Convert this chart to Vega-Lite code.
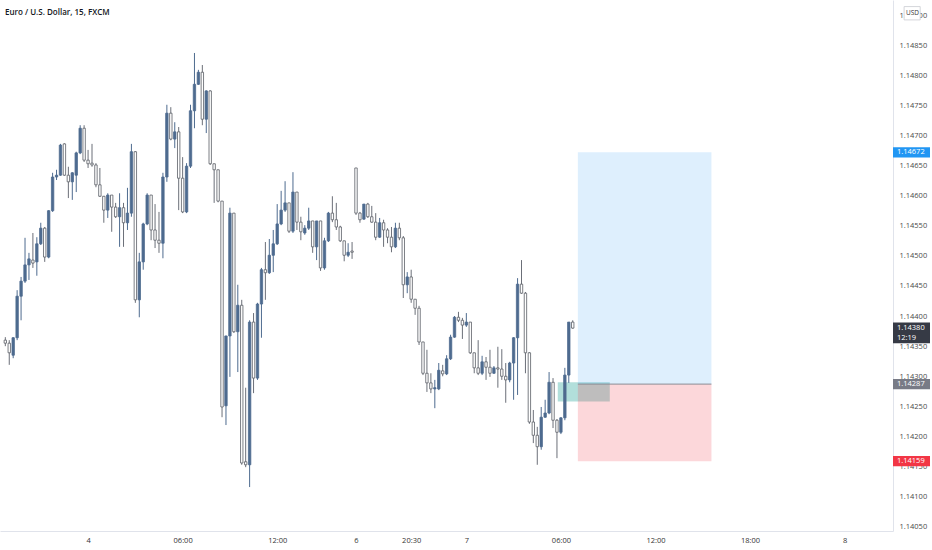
{
  "$schema": "https://vega.github.io/schema/vega-lite/v6.json",
  "width": 893,
  "height": 531,
  "autosize": "none",
  "padding": {"left": 0, "top": 0, "right": 39, "bottom": 19},
  "background": "#ffffff",
  "title": {"text": "Euro / U.S. Dollar, 15, FXCM", "anchor": "start", "frame": "group", "offset": -23, "baseline": "alphabetic", "dx": 5, "fontSize": 8, "font": "Open Sans", "fontWeight": 600, "color": "#131722"},
  "config": {
    "view": {"stroke": null},
    "axis": {"grid": false, "ticks": false, "domainColor": "#e0e3eb", "labelColor": "#4a4a4a", "labelFont": "Open Sans", "labelFontSize": 7.5, "labelOverlap": false, "labelFlush": false, "labelBound": false}
  },
  "datasets": {
    "candles": [
      {"i":-21,"o":1.14360,"h":1.14365,"l":1.14350,"c":1.14355},
      {"i":-20,"o":1.14355,"h":1.14360,"l":1.14319,"c":1.14339},
      {"i":-19,"o":1.14335,"h":1.14365,"l":1.14330,"c":1.14364},
      {"i":-18,"o":1.14364,"h":1.14443,"l":1.14360,"c":1.14433},
      {"i":-17,"o":1.14433,"h":1.14465,"l":1.14393,"c":1.14458},
      {"i":-16,"o":1.14458,"h":1.14530,"l":1.14455,"c":1.14485},
      {"i":-15,"o":1.14485,"h":1.14505,"l":1.14460,"c":1.14495},
      {"i":-14,"o":1.14493,"h":1.14538,"l":1.14480,"c":1.14488},
      {"i":-13,"o":1.14490,"h":1.14531,"l":1.14467,"c":1.14520},
      {"i":-12,"o":1.14520,"h":1.14555,"l":1.14518,"c":1.14546},
      {"i":-11,"o":1.14546,"h":1.14548,"l":1.14490,"c":1.14498},
      {"i":-10,"o":1.14498,"h":1.14576,"l":1.14496,"c":1.14575},
      {"i":-9,"o":1.14575,"h":1.14638,"l":1.14573,"c":1.14631},
      {"i":-8,"o":1.14631,"h":1.14643,"l":1.14626,"c":1.14634},
      {"i":-7,"o":1.14634,"h":1.14686,"l":1.14633,"c":1.14684},
      {"i":-6,"o":1.14686,"h":1.14687,"l":1.14633,"c":1.14634},
      {"i":-5,"o":1.14634,"h":1.14648,"l":1.14596,"c":1.14623},
      {"i":-4,"o":1.14623,"h":1.14639,"l":1.14593,"c":1.14638},
      {"i":-3,"o":1.14634,"h":1.14673,"l":1.14606,"c":1.14671},
      {"i":-2,"o":1.14671,"h":1.14717,"l":1.14669,"c":1.14712},
      {"i":-1,"o":1.14712,"h":1.14717,"l":1.14656,"c":1.14659},
      {"i":0,"o":1.14659,"h":1.14676,"l":1.14646,"c":1.14653},
      {"i":1,"o":1.14654,"h":1.14686,"l":1.14648,"c":1.14651},
      {"i":2,"o":1.14651,"h":1.14654,"l":1.14614,"c":1.14618},
      {"i":3,"o":1.14618,"h":1.14646,"l":1.14598,"c":1.14599},
      {"i":4,"o":1.14599,"h":1.14599,"l":1.14555,"c":1.14576},
      {"i":5,"o":1.14576,"h":1.14604,"l":1.14563,"c":1.14601},
      {"i":6,"o":1.14601,"h":1.14601,"l":1.14540,"c":1.14581},
      {"i":7,"o":1.14581,"h":1.14588,"l":1.14563,"c":1.14565},
      {"i":8,"o":1.14565,"h":1.14604,"l":1.14515,"c":1.14580},
      {"i":9,"o":1.14580,"h":1.14588,"l":1.14515,"c":1.14555},
      {"i":10,"o":1.14555,"h":1.14613,"l":1.14543,"c":1.14571},
      {"i":11,"o":1.14571,"h":1.14686,"l":1.14565,"c":1.14673},
      {"i":12,"o":1.14673,"h":1.14674,"l":1.14422,"c":1.14427},
      {"i":13,"o":1.14427,"h":1.14505,"l":1.14398,"c":1.14490},
      {"i":14,"o":1.14490,"h":1.14555,"l":1.14477,"c":1.14553},
      {"i":15,"o":1.14553,"h":1.14604,"l":1.14551,"c":1.14601},
      {"i":16,"o":1.14601,"h":1.14601,"l":1.14526,"c":1.14543},
      {"i":17,"o":1.14543,"h":1.14586,"l":1.14513,"c":1.14526},
      {"i":18,"o":1.14526,"h":1.14573,"l":1.14505,"c":1.14521},
      {"i":19,"o":1.14521,"h":1.14638,"l":1.14496,"c":1.14631},
      {"i":20,"o":1.14631,"h":1.14751,"l":1.14623,"c":1.14737},
      {"i":21,"o":1.14737,"h":1.14747,"l":1.14692,"c":1.14694},
      {"i":22,"o":1.14694,"h":1.14722,"l":1.14679,"c":1.14706},
      {"i":23,"o":1.14706,"h":1.14714,"l":1.14576,"c":1.14629},
      {"i":24,"o":1.14629,"h":1.14664,"l":1.14571,"c":1.14573},
      {"i":25,"o":1.14573,"h":1.14654,"l":1.14571,"c":1.14649},
      {"i":26,"o":1.14649,"h":1.14751,"l":1.14646,"c":1.14741},
      {"i":27,"o":1.14741,"h":1.14837,"l":1.14712,"c":1.14785},
      {"i":28,"o":1.14785,"h":1.14809,"l":1.14784,"c":1.14805},
      {"i":29,"o":1.14805,"h":1.14817,"l":1.14717,"c":1.14727},
      {"i":30,"o":1.14727,"h":1.14775,"l":1.14704,"c":1.14774},
      {"i":31,"o":1.14774,"h":1.14775,"l":1.14651,"c":1.14653},
      {"i":32,"o":1.14653,"h":1.14653,"l":1.14588,"c":1.14643},
      {"i":33,"o":1.14643,"h":1.14643,"l":1.14589,"c":1.14591},
      {"i":34,"o":1.14591,"h":1.14591,"l":1.14232,"c":1.14249},
      {"i":35,"o":1.14251,"h":1.14367,"l":1.14219,"c":1.14367},
      {"i":36,"o":1.14367,"h":1.14580,"l":1.14299,"c":1.14571},
      {"i":37,"o":1.14571,"h":1.14571,"l":1.14372,"c":1.14374},
      {"i":38,"o":1.14374,"h":1.14452,"l":1.14307,"c":1.14418},
      {"i":39,"o":1.14418,"h":1.14427,"l":1.14153,"c":1.14156},
      {"i":40,"o":1.14158,"h":1.14281,"l":1.14149,"c":1.14153},
      {"i":41,"o":1.14153,"h":1.14393,"l":1.14116,"c":1.14390},
      {"i":42,"o":1.14390,"h":1.14405,"l":1.14272,"c":1.14297},
      {"i":43,"o":1.14297,"h":1.14422,"l":1.14294,"c":1.14420},
      {"i":44,"o":1.14420,"h":1.14480,"l":1.14364,"c":1.14477},
      {"i":45,"o":1.14477,"h":1.14523,"l":1.14427,"c":1.14472},
      {"i":46,"o":1.14472,"h":1.14528,"l":1.14470,"c":1.14501},
      {"i":47,"o":1.14501,"h":1.14543,"l":1.14473,"c":1.14520},
      {"i":48,"o":1.14520,"h":1.14586,"l":1.14518,"c":1.14553},
      {"i":49,"o":1.14553,"h":1.14608,"l":1.14551,"c":1.14576},
      {"i":50,"o":1.14576,"h":1.14624,"l":1.14573,"c":1.14588},
      {"i":51,"o":1.14588,"h":1.14588,"l":1.14538,"c":1.14541},
      {"i":52,"o":1.14541,"h":1.14639,"l":1.14538,"c":1.14606},
      {"i":53,"o":1.14606,"h":1.14606,"l":1.14543,"c":1.14556},
      {"i":54,"o":1.14556,"h":1.14565,"l":1.14526,"c":1.14540},
      {"i":55,"o":1.14538,"h":1.14551,"l":1.14535,"c":1.14546},
      {"i":56,"o":1.14546,"h":1.14580,"l":1.14543,"c":1.14558},
      {"i":57,"o":1.14558,"h":1.14558,"l":1.14505,"c":1.14515},
      {"i":58,"o":1.14515,"h":1.14558,"l":1.14493,"c":1.14558},
      {"i":59,"o":1.14558,"h":1.14558,"l":1.14475,"c":1.14480},
      {"i":60,"o":1.14480,"h":1.14530,"l":1.14477,"c":1.14525},
      {"i":61,"o":1.14525,"h":1.14573,"l":1.14523,"c":1.14571},
      {"i":62,"o":1.14571,"h":1.14599,"l":1.14556,"c":1.14560},
      {"i":63,"o":1.14560,"h":1.14588,"l":1.14543,"c":1.14548},
      {"i":64,"o":1.14548,"h":1.14550,"l":1.14523,"c":1.14525},
      {"i":65,"o":1.14525,"h":1.14525,"l":1.14491,"c":1.14501},
      {"i":66,"o":1.14501,"h":1.14521,"l":1.14498,"c":1.14506},
      {"i":67,"o":1.14508,"h":1.14523,"l":1.14495,"c":1.14506},
      {"i":68,"o":1.14646,"h":1.14646,"l":1.14568,"c":1.14571},
      {"i":69,"o":1.14571,"h":1.14573,"l":1.14555,"c":1.14560},
      {"i":70,"o":1.14561,"h":1.14586,"l":1.14560,"c":1.14586},
      {"i":71,"o":1.14586,"h":1.14588,"l":1.14563,"c":1.14565},
      {"i":72,"o":1.14565,"h":1.14583,"l":1.14555,"c":1.14556},
      {"i":73,"o":1.14556,"h":1.14571,"l":1.14526,"c":1.14531},
      {"i":74,"o":1.14531,"h":1.14563,"l":1.14530,"c":1.14555},
      {"i":75,"o":1.14555,"h":1.14560,"l":1.14515,"c":1.14543},
      {"i":76,"o":1.14543,"h":1.14546,"l":1.14521,"c":1.14531},
      {"i":77,"o":1.14531,"h":1.14548,"l":1.14506,"c":1.14515},
      {"i":78,"o":1.14515,"h":1.14555,"l":1.14513,"c":1.14546},
      {"i":79,"o":1.14546,"h":1.14555,"l":1.14526,"c":1.14530},
      {"i":80,"o":1.14530,"h":1.14533,"l":1.14430,"c":1.14452},
      {"i":81,"o":1.14452,"h":1.14473,"l":1.14438,"c":1.14465},
      {"i":82,"o":1.14465,"h":1.14477,"l":1.14422,"c":1.14428},
      {"i":83,"o":1.14428,"h":1.14428,"l":1.14402,"c":1.14413},
      {"i":84,"o":1.14413,"h":1.14417,"l":1.14352,"c":1.14357},
      {"i":85,"o":1.14357,"h":1.14357,"l":1.14302,"c":1.14305},
      {"i":86,"o":1.14305,"h":1.14344,"l":1.14274,"c":1.14289},
      {"i":87,"o":1.14289,"h":1.14305,"l":1.14272,"c":1.14279},
      {"i":88,"o":1.14279,"h":1.14294,"l":1.14247,"c":1.14281},
      {"i":89,"o":1.14279,"h":1.14322,"l":1.14277,"c":1.14310},
      {"i":90,"o":1.14309,"h":1.14319,"l":1.14300,"c":1.14304},
      {"i":91,"o":1.14304,"h":1.14335,"l":1.14302,"c":1.14329},
      {"i":92,"o":1.14329,"h":1.14369,"l":1.14327,"c":1.14365},
      {"i":93,"o":1.14365,"h":1.14400,"l":1.14364,"c":1.14398},
      {"i":94,"o":1.14398,"h":1.14407,"l":1.14390,"c":1.14393},
      {"i":95,"o":1.14393,"h":1.14397,"l":1.14362,"c":1.14385},
      {"i":96,"o":1.14385,"h":1.14405,"l":1.14382,"c":1.14390},
      {"i":97,"o":1.14390,"h":1.14390,"l":1.14337,"c":1.14339},
      {"i":98,"o":1.14339,"h":1.14339,"l":1.14305,"c":1.14314},
      {"i":99,"o":1.14314,"h":1.14360,"l":1.14302,"c":1.14305},
      {"i":100,"o":1.14305,"h":1.14334,"l":1.14302,"c":1.14324},
      {"i":101,"o":1.14324,"h":1.14332,"l":1.14294,"c":1.14315},
      {"i":102,"o":1.14315,"h":1.14344,"l":1.14299,"c":1.14305},
      {"i":103,"o":1.14305,"h":1.14317,"l":1.14304,"c":1.14314},
      {"i":104,"o":1.14314,"h":1.14349,"l":1.14281,"c":1.14312},
      {"i":105,"o":1.14312,"h":1.14345,"l":1.14294,"c":1.14300},
      {"i":106,"o":1.14300,"h":1.14322,"l":1.14256,"c":1.14294},
      {"i":107,"o":1.14294,"h":1.14324,"l":1.14290,"c":1.14322},
      {"i":108,"o":1.14322,"h":1.14365,"l":1.14261,"c":1.14364},
      {"i":109,"o":1.14364,"h":1.14463,"l":1.14269,"c":1.14453},
      {"i":110,"o":1.14453,"h":1.14493,"l":1.14437,"c":1.14438},
      {"i":111,"o":1.14438,"h":1.14440,"l":1.14305,"c":1.14339},
      {"i":112,"o":1.14339,"h":1.14340,"l":1.14221,"c":1.14224},
      {"i":113,"o":1.14224,"h":1.14244,"l":1.14189,"c":1.14202},
      {"i":114,"o":1.14202,"h":1.14216,"l":1.14153,"c":1.14183},
      {"i":115,"o":1.14183,"h":1.14249,"l":1.14178,"c":1.14232},
      {"i":116,"o":1.14232,"h":1.14261,"l":1.14231,"c":1.14239},
      {"i":117,"o":1.14239,"h":1.14307,"l":1.14237,"c":1.14290},
      {"i":118,"o":1.14290,"h":1.14297,"l":1.14214,"c":1.14227},
      {"i":119,"o":1.14227,"h":1.14229,"l":1.14164,"c":1.14207},
      {"i":120,"o":1.14207,"h":1.14232,"l":1.14204,"c":1.14231},
      {"i":121,"o":1.14231,"h":1.14314,"l":1.14227,"c":1.14302},
      {"i":122,"o":1.14302,"h":1.14390,"l":1.14289,"c":1.14390},
      {"i":123,"o":1.14390,"h":1.14393,"l":1.14379,"c":1.14380}
    ],
    "zones": [
      {"kind":"teal","i0":119.2,"i1":132.4,"p0":1.14258,"p1":1.14290},
      {"kind":"target","i0":124.3,"i1":158.2,"p0":1.14287,"p1":1.14672},
      {"kind":"stop","i0":124.3,"i1":158.2,"p0":1.14159,"p1":1.14287}
    ],
    "tags": [
      {"label":"1.14672","p":1.14672,"kind":"target"},
      {"label":"1.14287","p":1.14287,"kind":"entry"},
      {"label":"1.14159","p":1.14159,"kind":"stop"}
    ],
    "last": [
      {"label":"1.14380","sub":"12:19","p":1.1438}
    ],
    "unit": [
      {"label":"USD","p":1.14903}
    ]
  },
  "layer": [
    {
      "data": {"name": "zones"},
      "mark": {"type": "rect"},
      "encoding": {
        "x": {"field": "i0", "type": "quantitative", "title": null, "scale": {"domain": [-21.08, 203.01], "nice": false, "zero": false},
              "axis": {"orient": "bottom", "values": [0,24,48,68,82,96,120,144,168,192], "tickCount": 40, "labelPadding": 5, "labelColor": "#333333",
                       "labelExpr": "datum.value==0?'4':datum.value==24?'06:00':datum.value==48?'12:00':datum.value==68?'6':datum.value==82?'20:30':datum.value==96?'7':datum.value==120?'06:00':datum.value==144?'12:00':datum.value==168?'18:00':'8'"}},
        "x2": {"field": "i1"},
        "y": {"field": "p0", "type": "quantitative", "title": null, "scale": {"domain": [1.14043, 1.14925], "nice": false, "zero": false},
              "axis": {"orient": "right", "values": [1.1405,1.141,1.1415,1.142,1.1425,1.143,1.1435,1.144,1.1445,1.145,1.1455,1.146,1.1465,1.147,1.1475,1.148,1.1485,1.149], "tickCount": 40, "format": ".5f", "labelPadding": 6}},
        "y2": {"field": "p1"},
        "fill": {"condition": [{"test": "datum.kind == 'teal'", "value": "#009688"}, {"test": "datum.kind == 'target'", "value": "#2196f3"}], "value": "#f23645"},
        "fillOpacity": {"condition": [{"test": "datum.kind == 'teal'", "value": 0.3}, {"test": "datum.kind == 'target'", "value": 0.15}], "value": 0.2}
      }
    },
    {
      "data": {"name": "zones"},
      "transform": [{"filter": "datum.kind == 'target'"}],
      "mark": {"type": "rule", "color": "#8a8d96", "strokeWidth": 1},
      "encoding": {
        "x": {"field": "i0", "type": "quantitative", "title": null},
        "x2": {"field": "i1"},
        "y": {"field": "p0", "type": "quantitative", "title": null}
      }
    },
    {
      "mark": {"type": "rule", "color": "#9a8cc0", "strokeDash": [1, 2], "strokeWidth": 1},
      "encoding": {
        "y": {"datum": 1.1438, "type": "quantitative"}
      }
    },
    {
      "data": {"name": "candles"},
      "mark": {"type": "rule", "strokeWidth": 1},
      "encoding": {
        "x": {"field": "i", "type": "quantitative", "title": null},
        "y": {"field": "h", "type": "quantitative", "title": null},
        "y2": {"field": "l"},
        "color": {"condition": {"test": "datum.c > datum.o", "value": "#4e6b8f"}, "value": "#6b6f78"}
      }
    },
    {
      "data": {"name": "candles"},
      "mark": {"type": "bar", "width": 2.4, "strokeWidth": 0.8},
      "encoding": {
        "x": {"field": "i", "type": "quantitative", "title": null},
        "y": {"field": "o", "type": "quantitative", "title": null},
        "y2": {"field": "c"},
        "fill": {"condition": {"test": "datum.c > datum.o", "value": "#4e6b8f"}, "value": "#ffffff"},
        "stroke": {"condition": {"test": "datum.c > datum.o", "value": "#4e6b8f"}, "value": "#5a5e66"}
      }
    },
    {
      "data": {"name": "tags"},
      "mark": {"type": "point", "x": "width", "shape": "M0,-0.28H2V0.28H0Z", "size": 1369, "filled": true, "opacity": 1, "strokeWidth": 0},
      "encoding": {
        "y": {"field": "p", "type": "quantitative", "title": null},
        "color": {"field": "kind", "type": "nominal", "legend": null, "scale": {"domain": ["target","entry","stop"], "range": ["#2196f3","#787b86","#f23645"]}}
      }
    },
    {
      "data": {"name": "tags"},
      "mark": {"type": "text", "x": "width", "dx": 4, "align": "left", "baseline": "middle", "color": "#ffffff", "font": "Open Sans", "fontSize": 7.5},
      "encoding": {
        "y": {"field": "p", "type": "quantitative", "title": null},
        "text": {"field": "label"}
      }
    },
    {
      "data": {"name": "last"},
      "mark": {"type": "point", "x": "width", "shape": "M0,-0.3H2V0.82H0Z", "size": 1369, "filled": true, "opacity": 1, "color": "#363a45", "strokeWidth": 0},
      "encoding": {
        "y": {"field": "p", "type": "quantitative", "title": null}
      }
    },
    {
      "data": {"name": "last"},
      "mark": {"type": "text", "x": "width", "dx": 4, "align": "left", "baseline": "middle", "color": "#ffffff", "font": "Open Sans", "fontSize": 7.5},
      "encoding": {
        "y": {"field": "p", "type": "quantitative", "title": null},
        "text": {"field": "label"}
      }
    },
    {
      "data": {"name": "last"},
      "mark": {"type": "text", "x": "width", "dx": 4, "dy": 9.5, "align": "left", "baseline": "middle", "color": "#ffffff", "font": "Open Sans", "fontSize": 7.5},
      "encoding": {
        "y": {"field": "p", "type": "quantitative", "title": null},
        "text": {"field": "sub"}
      }
    },
    {
      "data": {"name": "unit"},
      "mark": {"type": "point", "x": "width", "shape": "M0.6,-0.36H1.47V0.36H0.6Z", "size": 1369, "filled": true, "opacity": 1, "fill": "#ffffff", "stroke": "#c9cbd1", "strokeWidth": 0.8},
      "encoding": {
        "y": {"field": "p", "type": "quantitative", "title": null}
      }
    },
    {
      "data": {"name": "unit"},
      "mark": {"type": "text", "x": "width", "dx": 19.5, "align": "center", "baseline": "middle", "color": "#333333", "font": "Open Sans", "fontSize": 6.5},
      "encoding": {
        "y": {"field": "p", "type": "quantitative", "title": null},
        "text": {"field": "label"}
      }
    }
  ]
}
